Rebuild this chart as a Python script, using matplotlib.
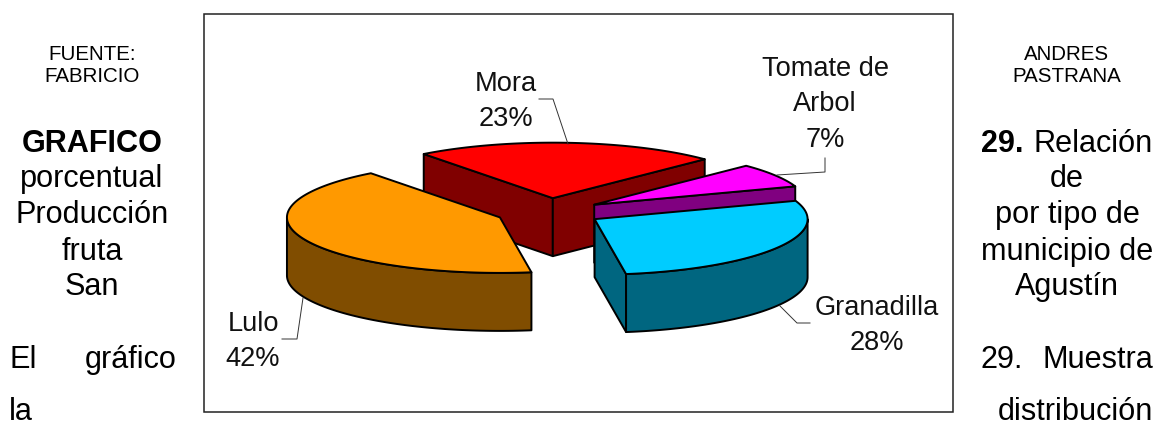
import matplotlib
matplotlib.use("Agg")
import matplotlib.pyplot as plt
import numpy as np
from matplotlib.patches import Polygon, Rectangle

plt.rcParams["font.family"] = ["Liberation Sans", "DejaVu Sans"]

# chart data
categories = ["Mora", "Tomate de\nArbol", "Granadilla", "Lulo"]
percent = [23, 7, 28, 42]

top_colors = ["#FF0000", "#FF00FF", "#00CCFF", "#FF9900"]
side_colors = ["#800000", "#800080", "#006680", "#804D00"]

# pie geometry, in pixels of the picture
cx, cy = 549, 212
rx, ry = 213, 55.5
depth = 58
explode = 0.25
start_angle = 127.3

fig = plt.figure(figsize=(11.58, 4.21), dpi=100)
ax = fig.add_axes([0, 0, 1, 1])
ax.set_xlim(0, 1158)
ax.set_ylim(421, 0)
ax.axis("off")

ax.add_patch(Rectangle((204, 14), 749, 398, fc="white", ec="#222222", lw=1.1))


def ring(t, ox, oy):
    return ox + rx * np.cos(t), oy - ry * np.sin(t)


def draw_poly(pts, color):
    ax.add_patch(Polygon(pts, closed=True, fc=color, ec="black", lw=1.4, joinstyle="round"))


# slices run clockwise, back ones first so the front ones cover them
angle = start_angle
slices = []
for value, top, side in zip(percent, top_colors, side_colors):
    t1 = np.radians(angle)
    t2 = np.radians(angle - value * 3.6)
    mid = (t1 + t2) / 2
    ox, oy = ring(mid, cx, cy)
    ox = cx + explode * (ox - cx)
    oy = cy + explode * (oy - cy)
    slices.append((t1, t2, ox, oy, top, side))
    angle -= value * 3.6

for i in [0, 3, 1, 2]:
    t1, t2, ox, oy, top, side = slices[i]
    # cut faces that look towards the viewer
    for t, show in [(t1, np.cos(t1) < 0), (t2, np.cos(t2) > 0)]:
        if show:
            ex, ey = ring(t, ox, oy)
            draw_poly([(ox, oy), (ex, ey), (ex, ey + depth), (ox, oy + depth)], side)
    # outer wall, only the lower half of the ellipse can be seen
    a = min(t1, 0)
    b = max(t2, -np.pi)
    if a > b:
        tt = np.linspace(a, b, 80)
        xs, ys = ring(tt, ox, oy)
        pts = list(zip(xs, ys)) + list(zip(xs[::-1], ys[::-1] + depth))
        draw_poly(pts, side)
    # top face
    tt = np.linspace(t1, t2, 120)
    xs, ys = ring(tt, ox, oy)
    draw_poly([(ox, oy)] + list(zip(xs, ys)), top)

# leader lines
leaders = [
    ([539, 553, 568], [99, 99, 144]),
    ([825, 825, 777], [158, 172, 175]),
    ([810, 797, 780], [323, 323, 306]),
    ([282, 297, 303], [339, 339, 298]),
]
for lx, ly in leaders:
    ax.plot(lx, ly, color="#333333", lw=0.7)

# slice labels, x centre and baseline of the first line
label_pos = [(506, 91), (825, 76), (877, 315), (253, 331)]
for name, value, (x, y) in zip(categories, percent, label_pos):
    for k, line in enumerate(f"{name}\n{value}%".split("\n")):
        ax.text(x, y + k * 35.3, line, ha="center", va="baseline", fontsize=19.6, color="#111111")

# running text of the page around the chart
body = 22.1
small = 14.8


def page_text(x, y, txt, ha="center", size=body, weight="normal"):
    ax.text(x, y, txt, ha=ha, va="baseline", fontsize=size, fontweight=weight, color="black")


page_text(92, 60, "FUENTE:", size=small)
page_text(92, 82, "FABRICIO", size=small)
page_text(1067, 60, "ANDRES", size=small)
page_text(1067, 82, "PASTRANA", size=small)

page_text(92, 152, "GRAFICO", weight="bold")
page_text(92, 187, "porcentual")
page_text(92, 223, "Producción")
page_text(92, 260, "fruta")
page_text(92, 295, "San")

page_text(981, 152, "29.", ha="left", weight="bold")
page_text(1034, 152, "Relación", ha="left")
page_text(1067, 187, "de")
page_text(1067, 223, "por tipo de")
page_text(1067, 260, "municipio de")
page_text(1067, 295, "Agustín")

page_text(9, 368, "El", ha="left")
page_text(85, 368, "gráfico", ha="left")
page_text(980, 368, "29.", ha="left")
page_text(1153, 368, "Muestra", ha="right")
page_text(9, 420, "la", ha="left")
page_text(1153, 420, "distribución", ha="right")

fig.savefig("out.png", dpi=100)
